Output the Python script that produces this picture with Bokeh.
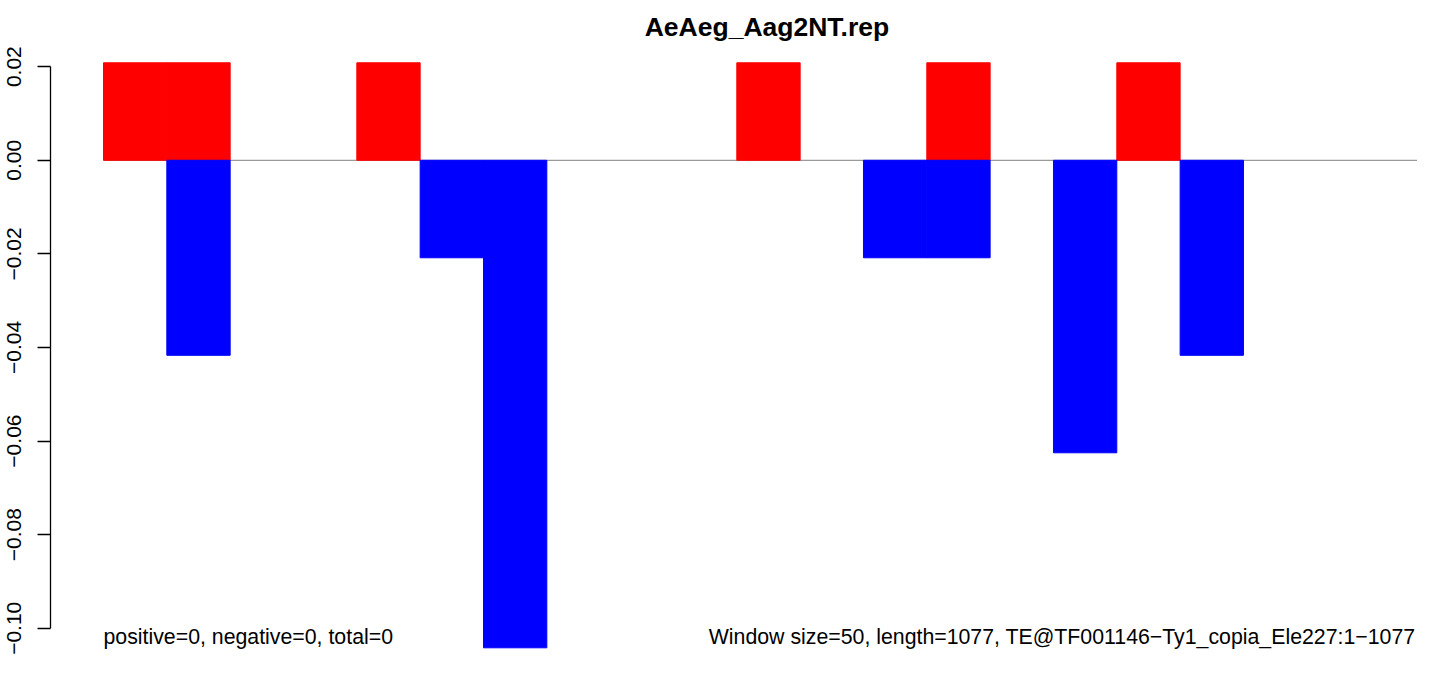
from bokeh.plotting import figure
from bokeh.models import FixedTicker, Range1d, Label, ColumnDataSource, CDSView, BooleanFilter
from bokeh.embed import file_html
from bokeh.resources import INLINE

# ---- data ----
title_text = "AeAeg_Aag2NT.rep"
window_size = 50
te_length = 1077
positive = [0.02083, 0.02083, 0, 0, 0.02083, 0, 0, 0, 0, 0, 0.02083, 0,
            0, 0.02083, 0, 0, 0.02083, 0, 0, 0, 0, 0]
negative = [0, -0.04167, 0, 0, 0, -0.02083, -0.10417, 0, 0, 0, 0, 0,
            -0.02083, -0.02083, 0, -0.0625, 0, -0.04167, 0, 0, 0, 0]
y_ticks = [-0.10, -0.08, -0.06, -0.04, -0.02, 0.00, 0.02]
y_tick_labels = ["\u22120.10", "\u22120.08", "\u22120.06", "\u22120.04", "\u22120.02", "0.00", "0.02"]
left_note = "positive=0, negative=0, total=0"
right_note = "Window size=50, length=1077, TE@TF001146\u2212Ty1_copia_Ele227:1\u22121077"

FONT = "Liberation Sans"

starts = [i * window_size for i in range(len(positive))]
ends = [s + window_size for s in starts]
src = ColumnDataSource(dict(left=starts, right=ends, pos=positive, neg=negative,
                            zero=[0] * len(starts)))
pos_view = CDSView(filter=BooleanFilter([v != 0 for v in positive]))
neg_view = CDSView(filter=BooleanFilter([v != 0 for v in negative]))

W, H = 1417, 657
p = figure(width=W, height=H, output_backend="svg", toolbar_location=None,
           x_range=Range1d(-41.84, 1037.4), y_range=Range1d(-0.10624, 0.03414),
           min_border_left=50, min_border_right=0, min_border_top=0, min_border_bottom=0,
           x_axis_location=None)
p.outline_line_color = None
p.xgrid.visible = False
p.ygrid.visible = False
p.background_fill_color = "white"
p.border_fill_color = "white"

# zero line
p.line(x=[0, te_length], y=[0, 0], line_color="#9a9a9a", line_width=1.3)

p.quad(left="left", right="right", bottom="zero", top="pos", source=src, view=pos_view,
       fill_color="#FF0000", line_color="#FF0000", line_width=1.0, line_join="miter")
p.quad(left="left", right="right", bottom="neg", top="zero", source=src, view=neg_view,
       fill_color="#0000FF", line_color="#0000FF", line_width=1.0, line_join="miter")

ax = p.yaxis[0]
ax.ticker = FixedTicker(ticks=y_ticks)
ax.major_label_overrides = {t: l for t, l in zip(y_ticks, y_tick_labels)}
ax.bounds = (min(y_ticks), max(y_ticks))
ax.major_label_orientation = "vertical"
ax.major_label_text_font = FONT
ax.major_label_text_font_size = "21px"
ax.major_label_text_color = "black"
ax.major_label_standoff = 16
ax.major_tick_out = 13
ax.major_tick_in = 0
ax.minor_tick_out = 0
ax.minor_tick_in = 0
ax.axis_line_width = 1.3
ax.major_tick_line_width = 1.3
ax.axis_line_color = "black"
ax.major_tick_line_color = "black"

p.add_layout(Label(x=523.8, y=0.02857, text=title_text, text_font=FONT,
                   text_font_size="26.5px", text_font_style="bold",
                   text_align="center", text_baseline="alphabetic", text_color="black"))
p.add_layout(Label(x=0, y=-0.10193, text=left_note, text_font=FONT,
                   text_font_size="21.3px", text_align="left",
                   text_baseline="alphabetic", text_color="black"))
p.add_layout(Label(x=1035.8, y=-0.10193, text=right_note, text_font=FONT,
                   text_font_size="21.3px", text_align="right",
                   text_baseline="alphabetic", text_color="black"))

open("out.html", "w").write(file_html(p, INLINE))
